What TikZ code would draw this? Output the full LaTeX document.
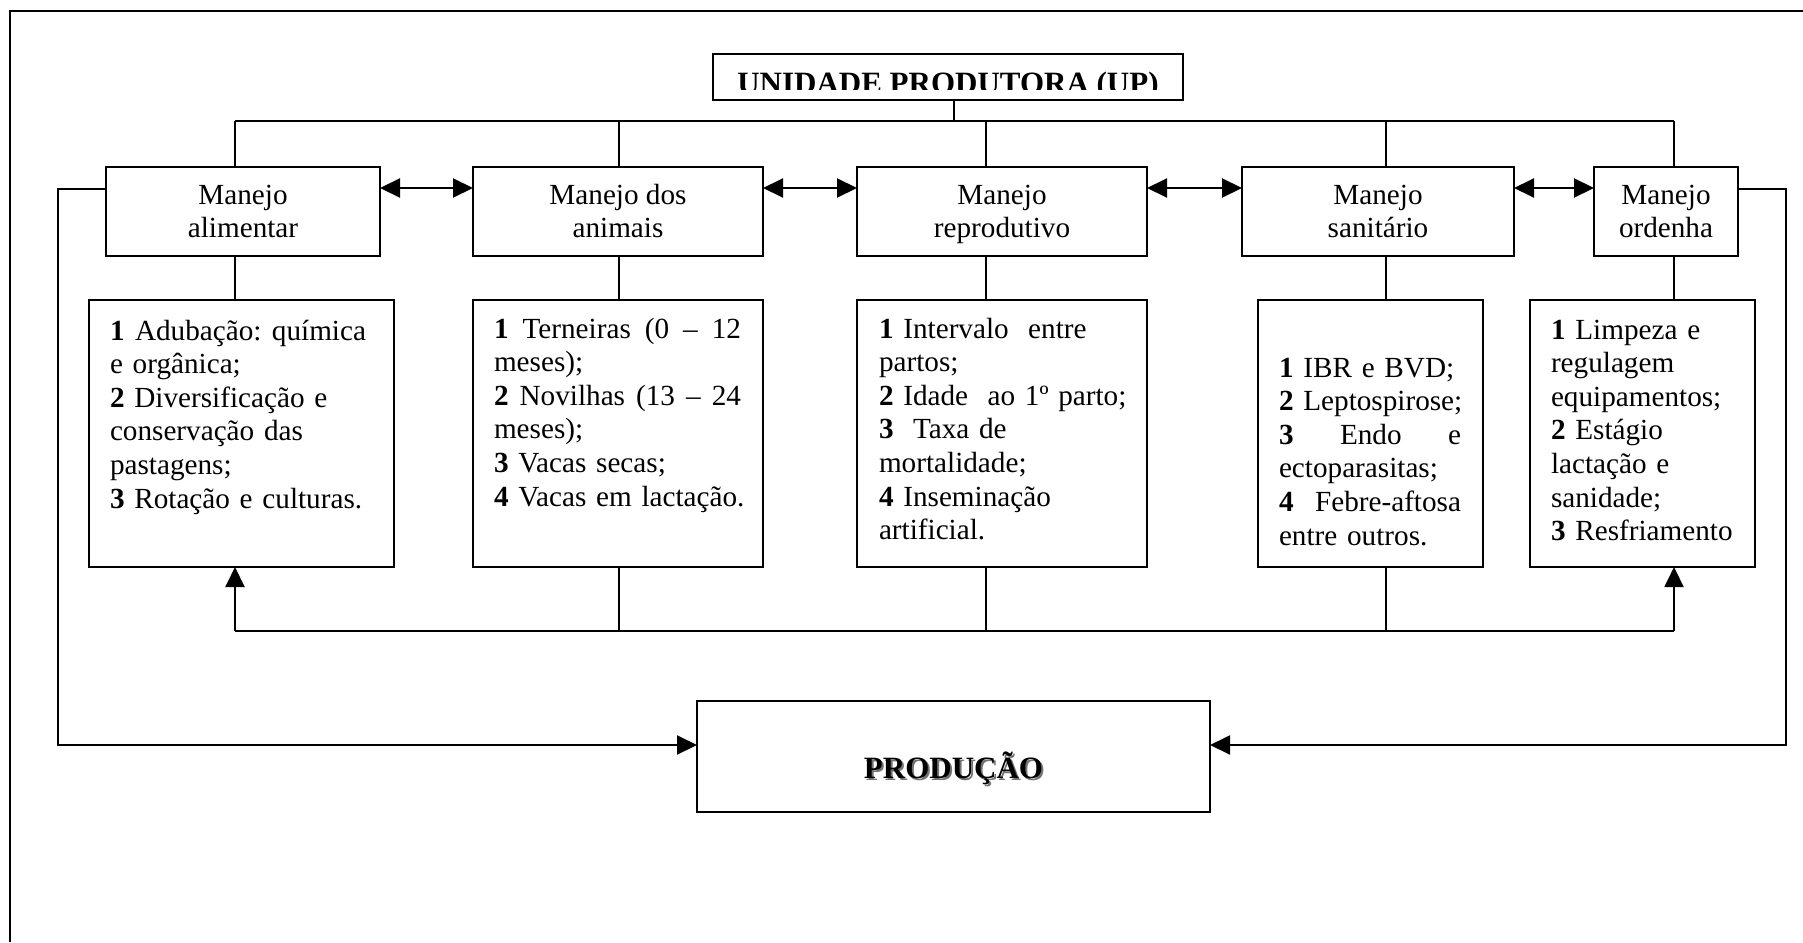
\documentclass[tikz,border=0pt]{standalone}
\usepackage{fontspec}
\setmainfont{Liberation Serif}
\usetikzlibrary{arrows.meta,calc}
\newcommand{\mtwo}[2]{\rule{0pt}{12.6pt}#1\\#2\rule[-3.3pt]{0pt}{3.3pt}}
\newcommand{\jline}[2]{\leavevmode\hbox to #1{#2}}
\begin{document}
\begin{tikzpicture}[x=0.5pt,y=-0.5pt,
  every node/.style={inner sep=0pt,outer sep=0pt},
  box/.style={draw,line width=1pt,rectangle},
  mbox/.style={box,minimum height=44.5pt,align=center,font=\fontsize{14.6}{16.8}\selectfont},
  lbox/.style={box,minimum height=133.5pt},
  conn/.style={line width=1pt},
  arr/.style={conn,-{Triangle[length=10pt,width=9.5pt]}},
  darr/.style={conn,{Triangle[length=10pt,width=9.5pt]}-{Triangle[length=10pt,width=9.5pt]}},
  list/.style={anchor=north west,align=left,text width=150pt,font=\fontsize{14.6}{16.8}\selectfont},
  title/.style={font=\fontsize{15.5}{18}\selectfont\bfseries,anchor=base}
]
\useasboundingbox (0,0) rectangle (1803,942);
% outer frame (only top and left visible)
\draw[line width=1.3pt] (10,942) -- (10,11) -- (1803,11);

% title box
\node[box,minimum width=235pt,minimum height=23pt] (up) at (948,77) {};
\begin{scope}
  \clip (713,54) rectangle (1183,89);
  \node[title] (uptext) at (948,93.5) {UNIDADE PRODUTORA (UP)};
\end{scope}

% management boxes
\node[mbox,minimum width=137pt] (m1) at (243,211.5)  {\mtwo{Manejo}{alimentar}};
\node[mbox,minimum width=145pt] (m2) at (618,211.5)  {\mtwo{Manejo dos}{animais}};
\node[mbox,minimum width=145pt] (m3) at (1002,211.5) {\mtwo{Manejo}{reprodutivo}};
\node[mbox,minimum width=136pt] (m4) at (1378,211.5) {\mtwo{Manejo}{sanitário}};
\node[mbox,minimum width=72pt]  (m5) at (1666,211.5) {\mtwo{Manejo}{ordenha}};

% detail boxes
\node[lbox,minimum width=152.5pt] (l1) at (241.5,433.5) {};
\node[lbox,minimum width=145pt]   (l2) at (618,433.5)   {};
\node[lbox,minimum width=145pt]   (l3) at (1002,433.5)  {};
\node[lbox,minimum width=112.5pt] (l4) at (1370.5,433.5) {};
\node[lbox,minimum width=112.5pt] (l5) at (1642.5,433.5) {};

\node[list] (t1) at (110,316.5) {\strut\jline{128pt}{\textbf{1}\hfill Adubação:\hfill química}\\
  e orgânica;\\ \textbf{2} Diversificação e\\ conservação das\\ pastagens;\\ \textbf{3} Rotação e culturas.};
\node[list] (t2) at (494,314.5) {\strut\jline{123.5pt}{\textbf{1}\hfill Terneiras\hfill (0\hfill –\hfill 12}\\
  meses);\\ \jline{123.5pt}{\textbf{2}\hfill Novilhas\hfill (13\hfill –\hfill 24}\\ meses);\\ \textbf{3} Vacas secas;\\ \textbf{4} Vacas em lactação.};
\node[list] (t3) at (879,314.5) {\strut\textbf{1} Intervalo\ \ entre\\
  partos;\\ \textbf{2} Idade\ \ ao 1º parto;\\ \textbf{3}\ \ Taxa de\\ mortalidade;\\ \textbf{4} Inseminação\\ artificial.};
\node[list] (t4) at (1279,353.5) {\strut\textbf{1} IBR e BVD;\\
  \textbf{2} Leptospirose;\\ \jline{91pt}{\textbf{3}\hfill Endo\hfill e}\\ ectoparasitas;\\ \jline{91pt}{\textbf{4}\hfill Febre-aftosa}\\ entre outros.};
\node[list] (t5) at (1551,315.5) {\strut\textbf{1} Limpeza e\\
  regulagem\\ equipamentos;\\ \textbf{2} Estágio\\ lactação e\\ sanidade;\\ \textbf{3} Resfriamento};

% production box
\node[box,minimum width=256.5pt,minimum height=55.5pt] (prod) at (953.5,756.5) {};
\node[title,text=black!55] (prodshadow) at (955.5,780) {PRODUÇÃO};
\node[title] (prodtext) at (953.5,778) {PRODUÇÃO};

% bus coordinates
\coordinate (bt) at (954,121);
\coordinate (k1) at (235,121);
\coordinate (k2) at (619,121);
\coordinate (k3) at (986,121);
\coordinate (k4) at (1386,121);
\coordinate (k5) at (1674,121);
\coordinate (bb) at (954,631);
\coordinate (ya) at (0,188);
\coordinate (yl) at (0,189);
\coordinate (lp) at (58,745);
\coordinate (rp) at (1786,745);

% top distribution
\draw[conn] (bt |- up.south) -- (bt);
\draw[conn] (k1) -- (k5);
\foreach \i in {1,...,5} {
  \draw[conn] (k\i) -- (k\i |- m\i.north);
  \draw[conn] (k\i |- m\i.south) -- (k\i |- l\i.north);
}
% bottom feedback
\foreach \i in {2,3,4} {
  \draw[conn] (k\i |- l\i.south) -- (k\i |- bb);
}
\draw[conn] (k1 |- bb) -- (k5 |- bb);
\draw[arr] (k1 |- bb) -- (k1 |- l1.south);
\draw[arr] (k5 |- bb) -- (k5 |- l5.south);

% double arrows between management boxes
\draw[darr] (m1.east |- ya) -- (m2.west |- ya);
\draw[darr] (m2.east |- ya) -- (m3.west |- ya);
\draw[darr] (m3.east |- ya) -- (m4.west |- ya);
\draw[darr] (m4.east |- ya) -- (m5.west |- ya);

% loops to production
\draw[arr] (m1.west |- yl) -| (lp) -- (prod.west |- lp);
\draw[arr] (m5.east |- yl) -| (rp) -- (prod.east |- rp);
\end{tikzpicture}
\end{document}
